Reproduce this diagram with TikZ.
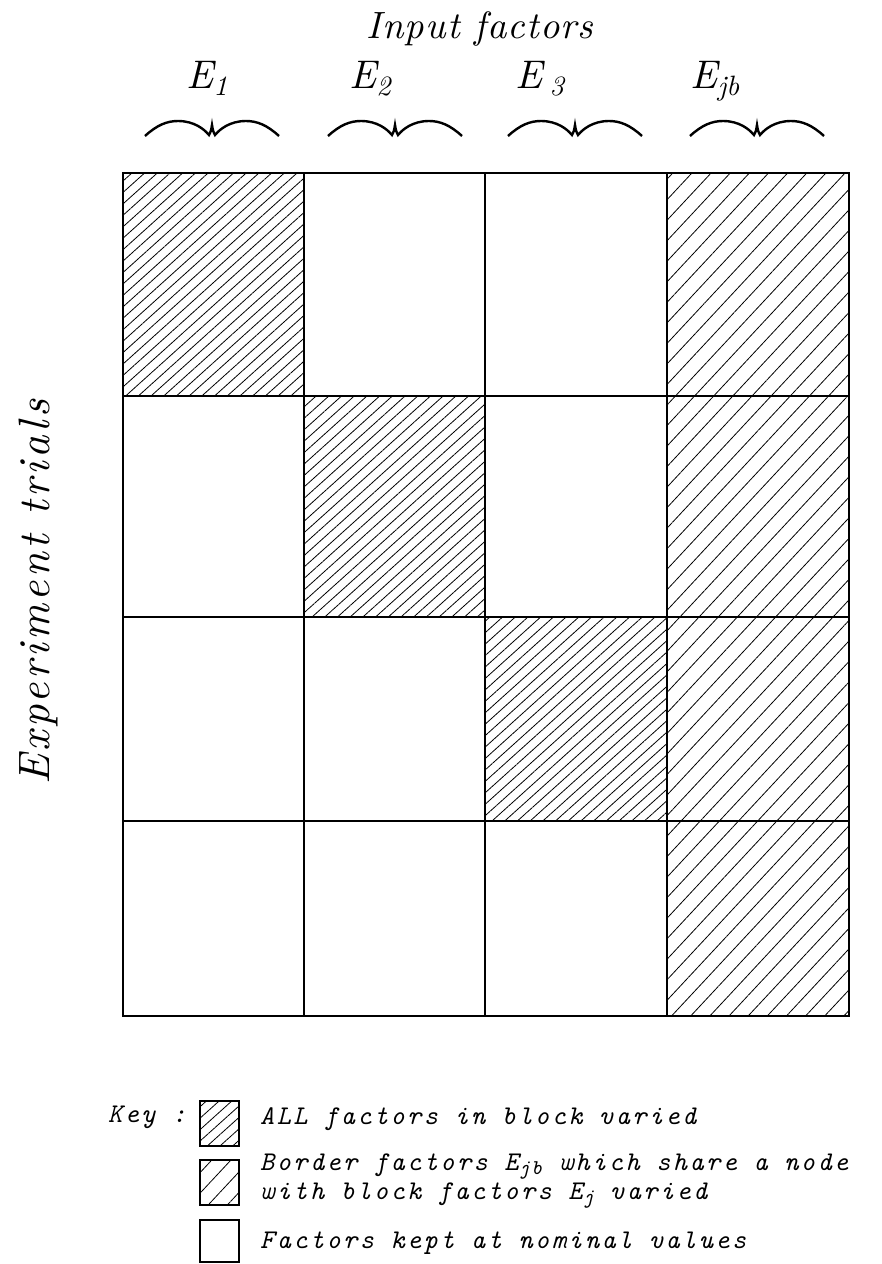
\documentclass[tikz,border=0pt]{standalone}
\usepackage{fontspec}
\usetikzlibrary{patterns.meta}
\newfontfamily\trialsfont{lmroman10-italic.otf}[LetterSpace=8]
\newfontfamily\inputfont{lmroman10-italic.otf}[LetterSpace=3]
\newfontfamily\lmit{lmroman10-italic.otf}
\newfontfamily\keyfont{lmmono10-italic.otf}[LetterSpace=9]
\newcommand{\sbs}[1]{\raisebox{-0.45ex}{\fontsize{28}{30}\selectfont #1}}
\newcommand{\ksbs}[1]{\raisebox{-0.35ex}{\fontsize{21}{23}\selectfont #1}}
\begin{document}
\begin{tikzpicture}[x=1pt,y=-1pt,
  gridline/.style={line width=1.3pt},
  denseh/.style={pattern={Lines[angle=42,distance=8.5pt,line width=0.8pt]}},
  sparseh/.style={pattern={Lines[angle=47,distance=14pt,line width=0.8pt]}},
  keytext/.style={anchor=base west,inner sep=0pt,font=\keyfont\fontsize{27}{30}\selectfont},
  elabel/.style={anchor=base,inner sep=0pt,font=\lmit\fontsize{40}{44}\selectfont},
  wbrace/.pic={\draw[line width=2.4pt]
    (-67,9) .. controls (-55,-2) and (-45,-6) .. (-34,-6)
    .. controls (-18,-6) and (-8,2) .. (-3,8)
    .. controls (-1,4) .. (0,-2)
    .. controls (1,4) .. (3,8)
    .. controls (8,2) and (18,-6) .. (34,-6)
    .. controls (45,-6) and (55,-2) .. (67,9);}
]
\useasboundingbox (0,0) rectangle (882,1264);
\fill[white] (0,0) rectangle (882,1264);

% title and column labels
\node[anchor=base,inner sep=0pt,font=\inputfont\fontsize{38}{42}\selectfont] (inputfactors) at (480,38) {Input factors};
\node[elabel] (e1) at (207,88) {E\sbs{1}};
\node[elabel] (e2) at (370,88) {E\sbs{2}};
\node[elabel] (e3) at (540,88) {E\,\sbs{3}};
\node[elabel] (ejb) at (715,88) {E\sbs{jb}};
\pic at (212,127) {wbrace};
\pic at (395,127) {wbrace};
\pic at (575,127) {wbrace};
\pic at (757,127) {wbrace};

% side label
\node[rotate=90,inner sep=0pt,font=\trialsfont\fontsize{44}{48}\selectfont] (trials) at (38,592) {Experiment trials};

% hatched cells
\path[denseh] (123,173) rectangle (304,396);
\path[denseh] (304,396) rectangle (485,617);
\path[denseh] (485,617) rectangle (667,821);
\path[sparseh] (667,173) rectangle (849,1016);

% grid
\draw[gridline] (123,173) rectangle (849,1016);
\foreach \gx in {304,485,667} \draw[gridline] (\gx,173) -- (\gx,1016);
\foreach \gy in {396,617,821} \draw[gridline] (123,\gy) -- (849,\gy);

% key
\node[keytext] (key) at (108,1122) {Key :};
\draw[gridline,denseh] (200,1101) rectangle (239,1146);
\draw[gridline,sparseh] (200,1160) rectangle (239,1205);
\draw[gridline] (200,1220) rectangle (239,1262);
\node[keytext] (k1) at (260,1124) {ALL factors in block varied};
\node[keytext] (k2) at (260,1170) {Border factors E\ksbs{jb} which share a node};
\node[keytext] (k2b) at (260,1199) {with block factors E\ksbs{j} varied};
\node[keytext] (k3) at (260,1248) {Factors kept at nominal values};
\end{tikzpicture}
\end{document}
